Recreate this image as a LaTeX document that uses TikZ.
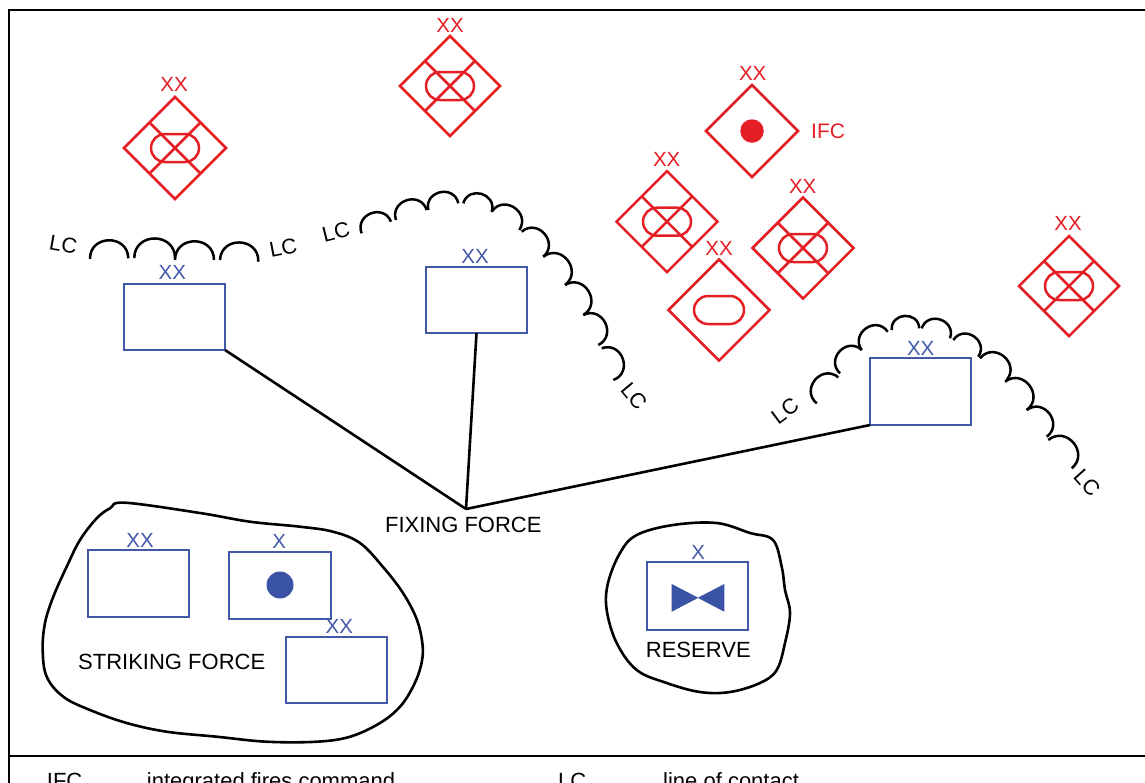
\documentclass[tikz,border=0pt]{standalone}
\usepackage{fontspec}
\setmainfont{Liberation Sans}
\usetikzlibrary{shapes.geometric,shapes.misc,calc}
\definecolor{milred}{RGB}{227,30,36}
\definecolor{milblue}{RGB}{66,88,168}
\definecolor{dotblue}{RGB}{58,83,164}
\newcommand\lcscallop[2]{\draw[lcline] (#1) .. controls ($(#1)!0.64!90:(#2)$) and ($(#2)!0.64!-90:(#1)$) .. (#2);}
\newcommand\mechinf[1]{%
  \draw[redline] ($(#1.north)!0.5!(#1.west)$) -- ($(#1.south)!0.5!(#1.east)$);
  \draw[redline] ($(#1.north)!0.5!(#1.east)$) -- ($(#1.south)!0.5!(#1.west)$);
  \node[stadium] (#1oval) at (#1) {};}
\begin{document}
\begin{tikzpicture}[x=1pt,y=-1pt,
  reddia/.style={draw=milred, line width=2.5pt, shape=diamond, aspect=1, inner sep=0pt, outer sep=0pt, minimum width=#1, minimum height=#1},
  redline/.style={draw=milred, line width=2.5pt},
  stadium/.style={rounded rectangle, draw=milred, line width=2.5pt, minimum width=48pt, minimum height=28pt, inner sep=0pt, outer sep=0pt},
  xxred/.style={text=milred, font=\fontsize{20.5}{20}\selectfont, inner sep=0pt},
  xxblue/.style={text=milblue, font=\fontsize{20.5}{20}\selectfont, inner sep=0pt},
  unitbox/.style={draw=milblue, line width=2.5pt, minimum width=101pt, minimum height=66pt, inner sep=0pt, outer sep=0pt},
  blackline/.style={line width=2.6pt},
  lcline/.style={line width=2.5pt},
  lclab/.style={font=\fontsize{21.5}{22}\selectfont, inner sep=0pt},
  bigtext/.style={font=\fontsize{22}{24}\selectfont, inner sep=0pt},
]
\useasboundingbox (0,0) rectangle (1145,782);
\clip (0,0) rectangle (1145,782);

% frame
\draw[line width=2.8pt] (1146,10) -- (9,10) -- (9,783);
\draw[line width=2.6pt] (9,756) -- (1146,756);

% red enemy divisions
\node[reddia=102pt] (d1) at (175,148) {};
\mechinf{d1}
\node[xxred] (d1lab) at (174,84) {XX};

\node[reddia=100pt] (d2) at (450,86) {};
\mechinf{d2}
\node[xxred] (d2lab) at (450,25) {XX};

\node[reddia=92pt] (ifc) at (752,131) {};
\node[circle, fill=milred, minimum size=23.5pt, inner sep=0pt] (ifcdot) at (ifc) {};
\node[xxred] (ifcxx) at (752.7,73.3) {XX};
\node[text=milred, font=\fontsize{21}{21}\selectfont, inner sep=0pt, anchor=west] (ifclab) at (811,131) {IFC};

\node[reddia=101pt] (d4) at (667,221.7) {};
\mechinf{d4}
\node[xxred] (d4lab) at (666.7,159) {XX};

\node[reddia=101pt] (d5) at (803,248) {};
\mechinf{d5}
\node[xxred] (d5lab) at (802.7,186.7) {XX};

\node[reddia=101pt] (d6) at (719,310) {};
\node[stadium, minimum width=50pt] (d6oval) at (d6) {};
\node[xxred] (d6lab) at (719,248.3) {XX};

\node[reddia=100pt] (d7) at (1069,286) {};
\mechinf{d7}
\node[xxred] (d7lab) at (1068,223) {XX};

% blue friendly units
\node[unitbox] (A) at (174.5,317) {};
\node[xxblue] (Alab) at (172.3,272.7) {XX};
\node[unitbox] (B) at (476.5,300) {};
\node[xxblue] (Blab) at (475,256) {XX};
\node[unitbox, minimum height=67pt] (C) at (920.5,391.5) {};
\node[xxblue] (Clab) at (920.7,348.3) {XX};

\node[unitbox, minimum height=67pt] (D) at (138.5,583.5) {};
\node[xxblue] (Dlab) at (140,540) {XX};
\node[unitbox, minimum width=102pt, minimum height=67pt] (E) at (280,585.5) {};
\node[xxblue] (Elab) at (279.3,541) {X};
\node[circle, fill=dotblue, minimum size=27pt, inner sep=0pt] (Edot) at (280,585) {};
\node[unitbox] (F) at (336.5,670) {};
\node[xxblue] (Flab) at (339.3,626.7) {XX};

\node[unitbox, minimum height=68pt] (R) at (697.5,596) {};
\node[xxblue] (Rlab) at (698.3,552.7) {X};
\fill[dotblue] (671.7,584) -- (671.7,611.7) -- (698.3,597.8) -- cycle;
\fill[dotblue] (724.3,584) -- (724.3,611.7) -- (697.7,597.8) -- cycle;

% fixing force connectors
\coordinate (fx) at (466,509);
\draw[blackline] (A.south east) -- (fx);
\draw[blackline] (B.south) -- (fx);
\draw[blackline] (C.south west) -- (fx);
\node[bigtext] (fixlab) at (463.3,524.5) {FIXING FORCE};

% striking force blob
\draw[blackline] plot[smooth cycle, tension=0.6] coordinates {
 (125,502.7) (200,513) (250,521.7) (300,526.7) (333,531.7) (360,543) (383,567)
 (403,593) (417,620) (422.7,646.7) (420.7,666.7) (413,686.7) (400,706.7) (380,723)
 (350,736.7) (316.7,741.7) (266.7,741.7) (216.7,736.7) (166.7,731.7) (126.7,723)
 (90,710) (63.3,696.7) (46.7,676.7) (42.7,650) (45,623) (53.3,596.7) (66.7,566.7)
 (80,540) (96.7,518.3) (110,508.3)};
\node[bigtext] (strlab) at (171.7,661.7) {STRIKING FORCE};

% reserve blob
\draw[blackline] plot[smooth cycle, tension=0.6] coordinates {
 (636.7,535) (673,525) (716.7,523) (750,533) (773,540) (781.7,566.7) (785,590)
 (790,613) (785,643) (776.7,670) (760,683) (730,692) (700,692) (666.7,683)
 (636.7,670) (616.7,643) (606.7,610) (608,583) (620,553)};
\node[bigtext] (reslab) at (698.3,650) {RESERVE};

% lines of contact, set 1
\lcscallop{90,259}{128.3,258.3}
\lcscallop{134.3,258}{175,258}
\lcscallop{175,260}{214,260}
\lcscallop{220,260}{258.3,261.7}
\node[lclab, rotate=-10] (lc1) at (63.3,244.5) {LC};
\node[lclab, rotate=11] (lc2) at (283.3,248) {LC};

% set 2
\lcscallop{361.7,233.3}{391,221.7}
\lcscallop{396,220}{426.7,210}
\lcscallop{428.3,210}{458.3,203.3}
\lcscallop{463.3,203.3}{491.7,211.7}
\lcscallop{491.7,211.7}{519.3,230}
\lcscallop{521.7,231.7}{543.3,256.7}
\lcscallop{543.3,256.7}{565,285}
\lcscallop{565,285}{583.3,315}
\lcscallop{583.3,315}{598.3,345}
\lcscallop{601.7,348.3}{613.3,380}
\node[lclab, rotate=14] (lc3) at (336,232) {LC};
\node[lclab, rotate=-50] (lc4) at (634,396) {LC};

% set 3
\lcscallop{816.7,403.3}{838.3,377.3}
\lcscallop{840,373.3}{861.7,350}
\lcscallop{861.7,350}{887.7,331.7}
\lcscallop{891.7,330}{919.3,328.3}
\lcscallop{921.7,328.3}{950,338.3}
\lcscallop{953.3,340}{978.3,356.7}
\lcscallop{980,358.3}{1006.7,380}
\lcscallop{1005,381.7}{1026.7,410}
\lcscallop{1026.7,410}{1046.7,436.7}
\lcscallop{1048.3,440}{1071.7,468.3}
\node[lclab, rotate=37] (lc5) at (785,411) {LC};
\node[lclab, rotate=-48] (lc6) at (1087,483) {LC};

% legend
\node[bigtext, anchor=base west] (leg1) at (46.7,788.7) {IFC};
\node[bigtext, anchor=base west] (leg2) at (146.7,788.7) {integrated fires command};
\node[bigtext, anchor=base west] (leg3) at (558,788.7) {LC};
\node[bigtext, anchor=base west] (leg4) at (663,788.7) {line of contact};
\end{tikzpicture}
\end{document}
